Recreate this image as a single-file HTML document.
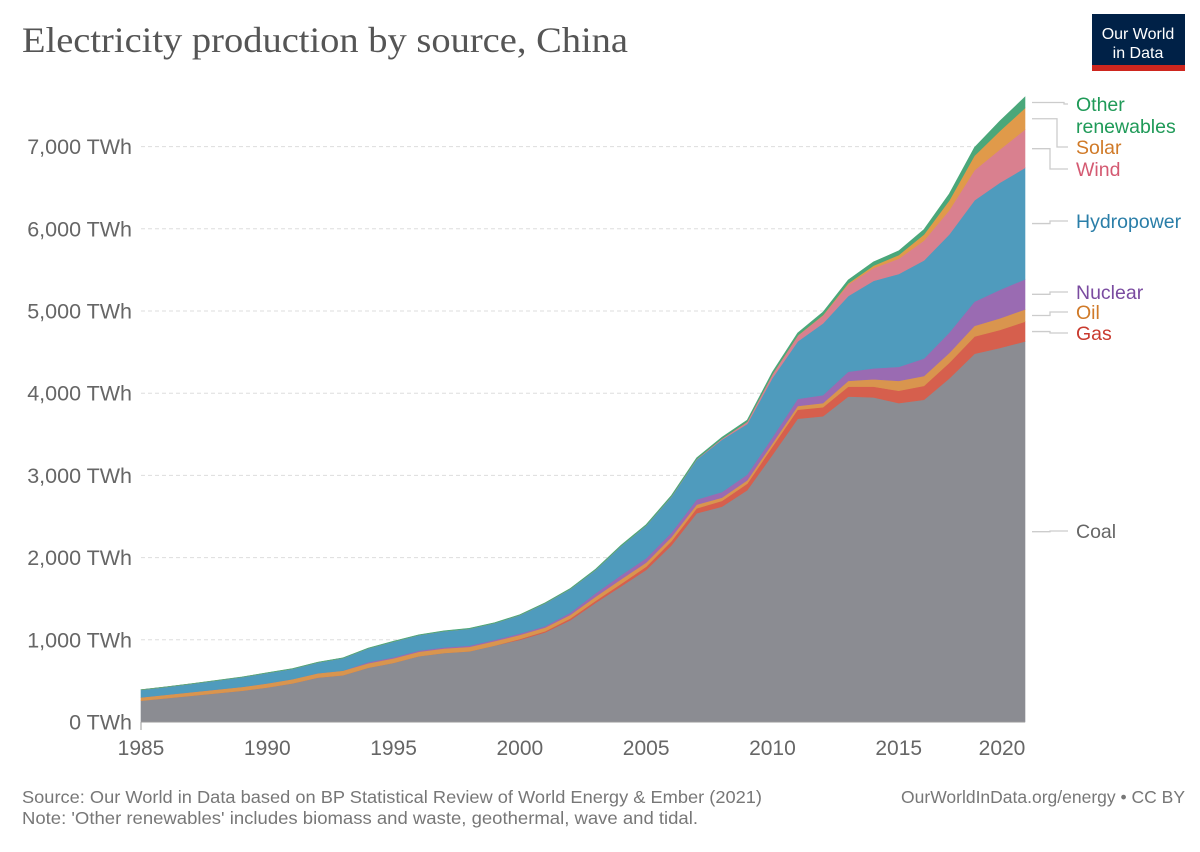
<!DOCTYPE html>
<html><head><meta charset="utf-8"><style>
body{margin:0;background:#fff;}
svg text{font-family:"Liberation Sans",sans-serif;}
</style></head><body>
<svg id="chart" width="1200" height="847" xmlns="http://www.w3.org/2000/svg">
<text x="22" y="52" style="font-family:'Liberation Serif',serif" font-size="36" textLength="606" lengthAdjust="spacingAndGlyphs" fill="#555">Electricity production by source, China</text>
<g>
<rect x="1092" y="14" width="93" height="57" fill="#002147"/>
<rect x="1092" y="65" width="93" height="6" fill="#ce261e"/>
<text x="1138" y="39" font-size="16" fill="#fff" text-anchor="middle">Our World</text>
<text x="1138" y="58" font-size="16" fill="#fff" text-anchor="middle">in Data</text>
</g>
<g id="grid"></g><g id="areas"></g><g id="axes"></g><g id="legend"></g>
<text x="22" y="803" font-size="17.5" textLength="740" lengthAdjust="spacingAndGlyphs" fill="#777">Source: Our World in Data based on BP Statistical Review of World Energy &amp; Ember (2021)</text>
<text x="22" y="824" font-size="17.5" textLength="676" lengthAdjust="spacingAndGlyphs" fill="#777">Note: 'Other renewables' includes biomass and waste, geothermal, wave and tidal.</text>
<text x="1185" y="803" font-size="17.5" fill="#777" text-anchor="end">OurWorldInData.org/energy • CC BY</text>
</svg>
<script>
const years=[1985,1986,1987,1988,1989,1990,1991,1992,1993,1994,1995,1996,1997,1998,1999,2000,2001,2002,2003,2004,2005,2006,2007,2008,2009,2010,2011,2012,2013,2014,2015,2016,2017,2018,2019,2020];
const coal=[260,290,320,350,380,420,470,540,570,660,720,800,840,860,930,1000,1090,1240,1450,1650,1850,2150,2540,2620,2820,3250,3690,3720,3960,3950,3880,3920,4180,4480,4550,4630];
const oil=[40,42,44,46,48,50,52,54,56,55,55,55,55,55,55,50,45,45,50,55,50,50,45,40,40,40,45,50,70,90,120,120,120,130,140,150];
const gas=[0,0,0,0,0,0,0,0,0,0,0,0,0,0,0,10,15,20,25,30,40,50,60,70,80,100,110,110,120,130,150,170,190,210,220,240];
const nuclear=[0,0,0,0,0,0,0,0,0,14,13,14,14,14,15,17,17,25,43,50,53,55,62,68,70,74,86,97,112,133,171,213,248,295,348,366];
const hydro=[92,95,100,109,118,127,125,131,152,167,191,188,196,206,204,222,277,288,283,354,397,435,486,637,616,722,699,872,920,1064,1130,1193,1194,1232,1302,1355];
const wind=[0,0,0,0,0,0,0,0,0,0,0,0,0,0,0,1,1,1,1,1,2,4,6,13,27,45,70,96,141,156,186,241,295,366,405,467];
const solar=[0,0,0,0,0,0,0,0,0,0,0,0,0,0,0,0,0,0,0,0,0,0,0,0,0,1,3,6,15,29,45,75,118,177,225,261];
const other=[2,2,2,2,2,3,3,3,3,4,4,4,5,5,5,6,6,7,8,9,10,12,14,16,20,25,30,35,40,45,50,60,80,100,120,135];
const seriesNames=["Coal","Gas","Oil","Nuclear","Hydropower","Wind","Solar","Other renewables"];
const seriesColors=["#8b8c92","#d65f4d","#d9954e","#9a6bb2","#4f9bbd","#d9808f","#e09a4a","#4aa77a"];
const yTicks=[0,1000,2000,3000,4000,5000,6000,7000];
const yTickLabels=["0 TWh","1,000 TWh","2,000 TWh","3,000 TWh","4,000 TWh","5,000 TWh","6,000 TWh","7,000 TWh"];
const xTicks=[1985,1990,1995,2000,2005,2010,2015,2020];
const series=[coal,gas,oil,nuclear,hydro,wind,solar,other];
const NS="http://www.w3.org/2000/svg";
const x=y=>141+(y-1985)*(1025-141)/(2020-1985);
const yS=v=>722-v*0.0822;
function mk(tag,attrs,parent){const e=document.createElementNS(NS,tag);for(const k in attrs)e.setAttribute(k,attrs[k]);parent.appendChild(e);return e;}
const grid=document.getElementById('grid'),axes=document.getElementById('axes'),areas=document.getElementById('areas'),legend=document.getElementById('legend');
yTicks.forEach((t,i)=>{
 if(t>0){const l=mk('line',{x1:141,x2:1025,y1:yS(t),y2:yS(t),stroke:'#ddd','stroke-dasharray':'4,3'},grid);
 
 }
 const tx=mk('text',{x:132,y:yS(t)+7.5,'font-size':21.5,fill:'#666','text-anchor':'end'},axes);tx.textContent=yTickLabels[i];
 
 
});
const base=years.map(()=>0);
const tops=[];
series.forEach((s,si)=>{
 const lo=base.slice();const hi=base.map((b,i)=>b+s[i]);
 let d='M'+years.map((yr,i)=>x(yr)+','+yS(hi[i])).join('L');
 for(let i=years.length-1;i>=0;i--)d+='L'+x(years[i])+','+yS(lo[i]);
 d+='Z';
 const p=mk('path',{d:d,fill:seriesColors[si],stroke:seriesColors[si],'stroke-width':0.6},areas);
 
 
 tops.push([lo[lo.length-1],hi[hi.length-1]]);
 hi.forEach((v,i)=>base[i]=v);
});
mk('line',{x1:141,x2:141,y1:722,y2:730,stroke:'#999'},axes);
mk('line',{x1:141,x2:1025,y1:722,y2:722,stroke:'#999'},axes);
xTicks.forEach(t=>{
 const tx=mk('text',{x:Math.min(x(t),1002),y:755,'font-size':21,fill:'#666','text-anchor':'middle'},axes);tx.textContent=t;
 
 
});
const labelY=[538,340,319,299,228,176,154,111];
const labelColors=["#666","#c93a2e","#d07a28","#7a4ba0","#2a7ea8","#d45a72","#d07a28","#1f9a58"];
series.forEach((s,si)=>{
 const mid=yS((tops[si][0]+tops[si][1])/2),ly=labelY[si]-7;
 const ex=1050+(si>=5?(si-5)*7:0);
 const pl=mk('polyline',{points:`1032,${mid} ${ex},${mid} ${ex},${ly} 1068,${ly}`,fill:'none',stroke:'#ccc','stroke-width':1.3},legend);
 
 
 const t=mk('text',{x:1076,y:labelY[si],'font-size':19.5,fill:labelColors[si]},legend);
 
 
 if(si===7){t.textContent='Other';const t2=mk('text',{x:1076,y:labelY[si]+22,'font-size':19.5,fill:labelColors[si]},legend);t2.textContent='renewables';
 
 }
 else t.textContent=seriesNames[si];
});
</script>
</body></html>
